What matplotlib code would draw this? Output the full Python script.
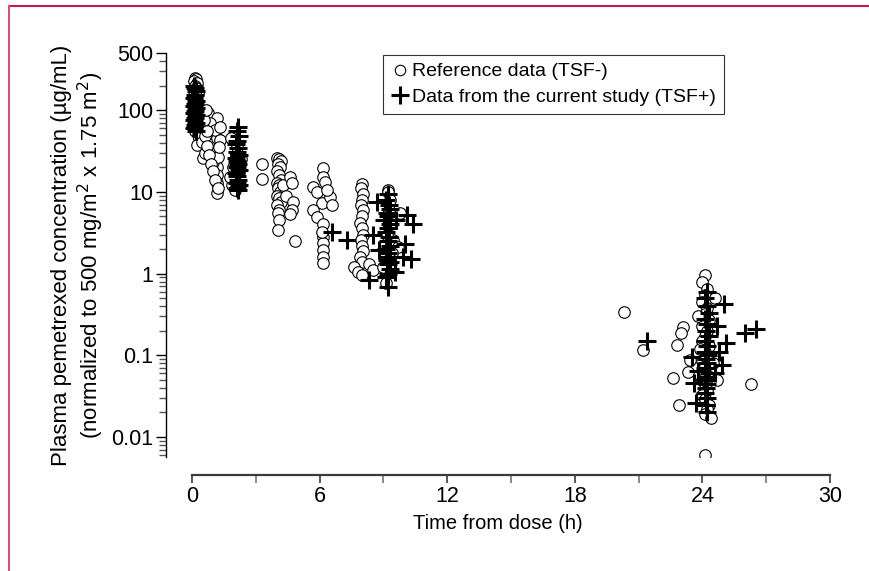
import matplotlib
matplotlib.use("Agg")
import matplotlib.pyplot as plt
from matplotlib.lines import Line2D
from matplotlib.ticker import LogLocator, NullFormatter, FixedLocator

plt.rcParams['font.family'] = ['Liberation Sans', 'DejaVu Sans']

# Reference data (TSF-) ------------------------------------------------------
ref_time = [
    0.15, 0.2, 0.1, 0.25, 0.15, 0.2, 0.1, 0.3, 0.2, 0.15, 0.25, 0.1, 0.2, 0.3, 0.15, 0.25, 0.2, 0.1, 0.3, 0.2, 0.25, 0.15, 0.3, 0.35,
    0.24, 0.47, 0.52, 0.75, 0.94, 1.17, 1.17, 1.17, 1.17, 1.17, 1.17, 0.94, 0.6, 1.0, 1.2, 0.85, 1.08, 1.3, 0.5, 0.6, 0.7, 0.8, 0.9, 1.0, 1.1, 1.2, 0.45, 0.55, 0.65, 1.25, 1.3, 0.7,
    1.9, 2.0, 1.8, 1.95, 2.05, 2.1, 1.85, 2.2, 2.3,
    3.3, 3.3,
    4.0, 4.1, 4.2, 4.05, 4.15, 4.0, 4.1, 4.2, 4.0, 4.1, 4.05, 4.15, 4.0, 4.1, 4.2, 4.0, 4.1, 4.05, 4.1, 4.05, 4.3, 4.4, 4.6, 4.7, 4.75, 4.7, 4.6, 4.85,
    6.15, 6.15, 5.7, 5.9, 6.1, 5.7, 5.9, 6.15, 6.5, 6.6, 6.15, 6.15, 6.15, 6.15, 6.15, 6.1, 6.25, 6.35,
    8.0, 7.95, 8.05, 8.0, 7.95, 8.05, 8.0, 7.9, 8.0, 8.05, 7.95, 8.0, 8.05, 7.9, 8.0, 7.6, 7.8, 8.0, 8.3, 8.5,
    9.2, 9.8, 9.45, 9.7, 9.2, 9.1, 9.0, 9.3, 9.25, 9.35, 9.15, 9.4, 9.3,
    24.1, 24.0, 24.2, 24.1, 24.0, 24.2, 24.1, 24.3, 24.0, 24.2, 24.1, 24.0, 24.3, 24.1, 24.2, 24.0, 24.1, 24.3, 24.2, 24.0, 24.1, 24.2, 24.0, 24.1, 24.3, 24.2, 24.1, 24.4, 24.1,
    20.3, 21.2, 23.1, 23.0, 22.8, 22.6, 22.9, 26.3, 23.4, 23.3, 24.6, 24.7, 23.8, 23.9, 24.5,
]
ref_conc = [
    250, 240, 230, 215, 200, 185, 170, 160, 150, 140, 130, 120, 110, 100, 95, 88, 80, 75, 70, 65, 60, 55, 50, 45,
    37, 41, 26, 92, 52, 80, 45, 20, 16, 12.8, 9.7, 32, 30, 23, 27, 69, 57, 43, 60, 48, 36, 28, 22, 18, 14, 11, 85, 75, 100, 35, 62, 55,
    12, 10.5, 15, 20, 28, 35, 45, 18, 25,
    22, 14.5,
    26, 25, 24, 22, 20, 18, 16, 14, 13, 12, 11, 10, 9, 8.5, 7.5, 7, 6, 5.5, 4.5, 3.4, 12, 9, 15, 13, 7.5, 6, 5.3, 2.5,
    19.5, 15.2, 11.5, 10, 7.3, 6, 4.9, 4.1, 8.7, 6.9, 2.8, 2.4, 1.95, 1.6, 1.35, 3.2, 13.2, 10.5,
    12.5, 11, 9.5, 8, 7, 6, 5, 4.2, 3.6, 3, 2.6, 2.2, 1.9, 1.6, 1.4, 1.2, 1.05, 0.95, 1.3, 1.1,
    10.5, 5.5, 2.6, 2.1, 9.9, 0.77, 1.2, 8, 6, 4, 3, 1.8, 1.5,
    0.95, 0.8, 0.65, 0.55, 0.45, 0.38, 0.32, 0.27, 0.23, 0.2, 0.17, 0.15, 0.13, 0.11, 0.095, 0.085, 0.075, 0.065, 0.058, 0.05, 0.044, 0.038, 0.033, 0.029, 0.025, 0.022, 0.019, 0.017, 0.006,
    0.34, 0.117, 0.22, 0.187, 0.134, 0.053, 0.0247, 0.045, 0.088, 0.063, 0.5, 0.05, 0.3, 0.12, 0.08,
]

# Data from the current study (TSF+) -------------------------------------------
cur_time = [
    0.1, 0.15, 0.2, 0.15, 0.1, 0.2, 0.15, 0.1, 0.2, 0.15, 0.1, 0.2, 0.15, 0.1, 0.2, 0.15, 0.1, 0.2,
    2.15, 2.1, 2.2, 2.1, 2.05, 2.15, 2.1, 2.2, 2.05, 2.1, 2.15, 2.1, 2.2, 2.05, 2.1, 2.15, 2.1, 2.2, 2.1, 2.15,
    6.6, 7.3, 8.3,
    9.2, 9.1, 9.25, 9.3, 9.15, 9.2, 9.05, 9.3, 9.2, 9.1, 9.25, 9.2, 9.3, 9.1, 9.2, 9.25, 9.15, 9.2, 9.3, 9.2, 9.1, 9.2, 8.7, 8.5, 8.8, 9.3, 9.55,
    10.1, 10.4, 10.0, 9.9, 10.3, 9.6,
    24.2, 24.1, 24.2, 24.3, 24.1, 24.2, 24.15, 24.3, 24.1, 24.2, 24.1, 24.25, 24.15, 24.2, 24.1, 24.3, 24.2, 24.1, 24.2, 24.15, 24.1, 24.2, 24.15, 24.2,
    21.4, 25.0, 26.0, 26.5, 25.1, 24.9, 24.7, 23.5, 23.6, 23.7, 24.8, 24.6, 23.8,
]
cur_conc = [
    200, 185, 170, 155, 140, 130, 120, 112, 105, 98, 92, 86, 80, 75, 70, 65, 60, 55,
    62, 55, 48, 42, 38, 34, 31, 28, 26, 24, 22, 20, 18.5, 17, 15.5, 14, 13, 12, 11, 10.5,
    3.2, 2.6, 0.83,
    9.5, 8, 7, 6.2, 5.5, 5, 4.5, 4, 3.6, 3.2, 2.8, 2.5, 2.2, 2, 1.8, 1.6, 1.45, 1.3, 1.15, 1.0, 0.9, 0.68, 7.5, 3.0, 1.95, 1.4, 1.05,
    5.2, 4.0, 2.3, 1.6, 1.5, 4.5,
    0.6, 0.5, 0.4, 0.33, 0.28, 0.24, 0.2, 0.17, 0.15, 0.13, 0.11, 0.1, 0.09, 0.08, 0.07, 0.06, 0.055, 0.05, 0.045, 0.04, 0.035, 0.03, 0.025, 0.02,
    0.15, 0.43, 0.19, 0.21, 0.14, 0.077, 0.23, 0.095, 0.046, 0.026, 0.11, 0.06, 0.065,
]

x_ticks = [0, 6, 12, 18, 24, 30]
y_ticks = [0.01, 0.1, 1, 10, 100, 500]
y_tick_labels = ['0.01', '0.1', '1', '10', '100', '500']

W, H, DPI = 870, 571, 100
fig = plt.figure(figsize=(W / DPI, H / DPI), dpi=DPI)
ax = fig.add_axes([166 / W, 1 - 457 / H, (830 - 166) / W, (457 - 53) / H])

ax.plot(ref_time, ref_conc, linestyle='none', marker='o', markersize=8.3,
        markerfacecolor='white', markeredgecolor='black', markeredgewidth=0.8, zorder=3)
ax.plot(cur_time, cur_conc, linestyle='none', marker='+', markersize=12.5,
        color='black', markeredgewidth=2.2, zorder=4)

ax.set_yscale('log')
ax.set_xlim(-26 / 21.27, 30)
ax.set_ylim(0.0057, 500)

for s in ['top', 'right']:
    ax.spines[s].set_visible(False)
ax.spines['bottom'].set_bounds(0, 30)
ax.spines['bottom'].set_position(('outward', 18 * 72 / DPI))
ax.spines['bottom'].set_color('#3a3a3a')
ax.spines['bottom'].set_linewidth(1.6)
ax.spines['left'].set_linewidth(1.0)

ax.set_xticks(x_ticks)
ax.xaxis.set_minor_locator(FixedLocator([3, 9, 15, 21, 27]))
ax.tick_params(axis='x', which='major', direction='out', length=6, width=1.2,
               color='#3a3a3a', labelsize=15.5, pad=2)
ax.tick_params(axis='x', which='minor', direction='out', length=6, width=1.2, color='#777777')

ax.set_yticks(y_ticks)
ax.set_yticklabels(y_tick_labels)
ax.yaxis.set_minor_locator(LogLocator(base=10, subs=range(2, 10)))
ax.yaxis.set_minor_formatter(NullFormatter())
ax.tick_params(axis='y', which='major', direction='out', length=7, width=1.0, labelsize=15.5, pad=2)
ax.tick_params(axis='y', which='minor', direction='out', length=5, width=1.0, color='#555555')

ax.set_xlabel('Time from dose (h)', fontsize=14.5, labelpad=5)
ax.set_ylabel('Plasma pemetrexed concentration (µg/mL)\n'
              '(normalized to 500 mg/m$^2$ x 1.75 m$^2$)',
              fontsize=16, multialignment='center', labelpad=4, linespacing=1.15)

handles = [
    Line2D([], [], linestyle='none', marker='o', markersize=7.5, markerfacecolor='white',
           markeredgecolor='black', markeredgewidth=0.8),
    Line2D([], [], linestyle='none', marker='+', markersize=13, color='black', markeredgewidth=2.2),
]
leg = fig.legend(handles, ['Reference data (TSF-)', 'Data from the current study (TSF+)'],
                 loc='upper left', bbox_to_anchor=(383 / W, 1 - 55 / H), fontsize=14,
                 frameon=True, fancybox=False, borderpad=0.4, handlelength=1.0,
                 handletextpad=0.1, labelspacing=0.4, borderaxespad=0)
leg.get_frame().set_edgecolor('black')
leg.get_frame().set_linewidth(0.8)

# pink page frame at the top and left edges
fig.add_artist(Line2D([9 / W, 1], [1 - 6 / H, 1 - 6 / H], color='#cc1848', linewidth=1.5))
fig.add_artist(Line2D([9 / W, 9 / W], [0, 1 - 6 / H], color='#d2507a', linewidth=1.5))

fig.savefig('out.png', dpi=DPI)
